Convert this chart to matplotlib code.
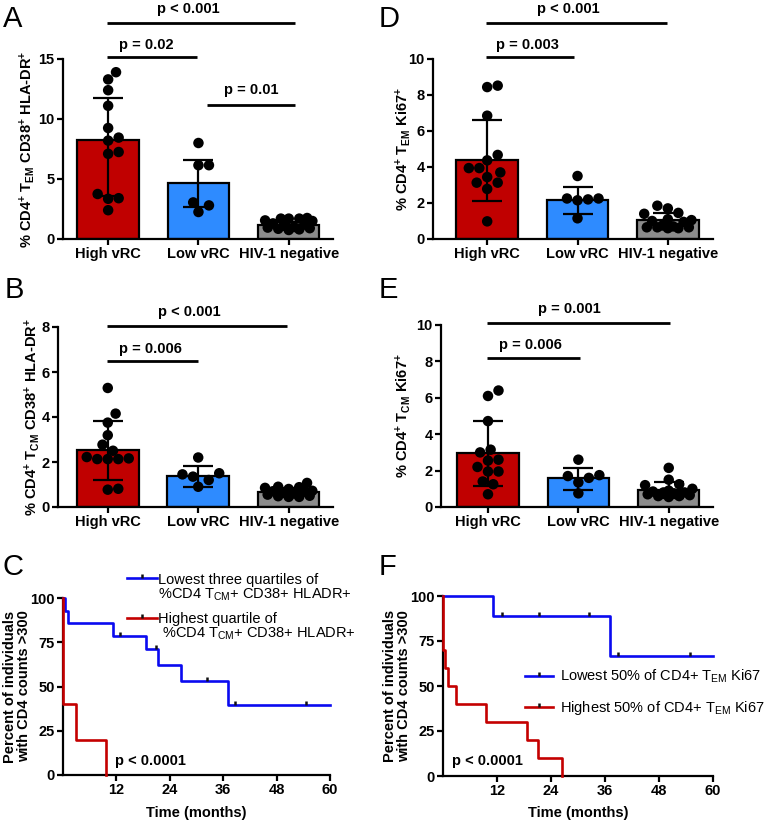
import numpy as np
import matplotlib
matplotlib.use('Agg')
import matplotlib.pyplot as plt
from matplotlib.markers import TICKUP

plt.rcParams['font.family'] = ['Liberation Sans', 'DejaVu Sans']
plt.rcParams['mathtext.default'] = 'regular'

# ---------------- values ----------------
groups = ['High vRC', 'Low vRC', 'HIV-1 negative']

# A  % CD4+ TEM CD38+ HLA-DR+
a_high = [13.9, 13.3, 12.4, 11.1, 9.25, 8.45, 8.2, 7.25, 7.1, 3.75, 3.4, 3.35, 2.4]
a_low = [8.0, 6.15, 6.15, 3.05, 2.8, 2.25]
a_neg = [1.75, 1.7, 1.7, 1.7, 1.55, 1.5, 1.3, 1.2, 1.1, 1.0, 0.95, 0.9, 0.85, 0.8, 0.75]
a_bar = [8.25, 4.64, 1.17]
a_lo = [3.56, 2.67, 0.9]
a_hi = [11.75, 6.61, 1.45]
a_p = ['p < 0.001', 'p = 0.02', 'p = 0.01']

# B  % CD4+ TCM CD38+ HLA-DR+
b_high = [5.29, 4.15, 3.75, 3.19, 2.77, 2.5, 2.22, 2.16, 2.13, 2.13, 2.13, 0.81, 0.77]
b_low = [2.2, 1.5, 1.45, 1.35, 1.2, 0.9]
b_neg = [1.07, 0.9, 0.88, 0.85, 0.8, 0.72, 0.7, 0.68, 0.65, 0.6, 0.55, 0.5, 0.48, 0.45, 0.45]
b_bar = [2.52, 1.38, 0.65]
b_lo = [1.19, 0.9, 0.46]
b_hi = [3.81, 1.84, 0.84]
b_p = ['p < 0.001', 'p = 0.006']

# D  % CD4+ TEM Ki67+
d_high = [8.52, 8.44, 6.85, 4.67, 4.37, 3.94, 3.94, 3.7, 3.44, 3.13, 3.13, 2.78, 0.98]
d_low = [3.5, 2.25, 2.25, 2.2, 2.15, 1.15]
d_neg = [1.85, 1.7, 1.45, 1.4, 1.1, 1.05, 1.0, 0.95, 0.75, 0.7, 0.65, 0.65, 0.65, 0.6, 0.6]
d_bar = [4.37, 2.19, 1.04]
d_lo = [2.11, 1.41, 0.7]
d_hi = [6.59, 2.91, 1.45]
d_p = ['p < 0.001', 'p = 0.003']

# E  % CD4+ TCM Ki67+
e_high = [6.4, 6.1, 4.72, 3.15, 3.0, 2.6, 2.55, 2.2, 1.95, 1.95, 1.4, 1.25, 0.7]
e_low = [2.6, 1.75, 1.7, 1.6, 1.35, 0.75]
e_neg = [2.15, 1.5, 1.25, 1.2, 1.0, 0.9, 0.85, 0.8, 0.8, 0.75, 0.7, 0.65, 0.6, 0.6, 0.55]
e_bar = [2.95, 1.58, 0.92]
e_lo = [1.16, 0.92, 0.5]
e_hi = [4.70, 2.17, 1.36]
e_p = ['p = 0.001', 'p = 0.006']

# C  Kaplan-Meier, CD38+ HLA-DR+ TCM quartiles
c_low_t = [0, 0.4, 1.1, 11.25, 18.75, 21.4, 26.6, 37.1, 60]
c_low_s = [100, 92.9, 85.7, 78.6, 71.3, 62.0, 52.9, 39.6, 39.6]
c_low_cens = [12.75, 20.8, 32.4, 38.6, 54.6]
c_high_t = [0, 0.1, 3.0, 9.75]
c_high_s = [100, 40, 20, 0]
c_labels = [['Lowest three quartiles of', '%CD4 T$_{CM}$+ CD38+ HLADR+'],
            ['Highest quartile of', ' %CD4 T$_{CM}$+ CD38+ HLADR+']]

# F  Kaplan-Meier, Ki67 TEM halves
f_low_t = [0, 11.1, 37.0, 60]
f_low_s = [100, 88.9, 66.7, 66.7]
f_low_cens = [13.0, 21.3, 32.4, 38.8, 54.8]
f_high_t = [0, 0.1, 0.37, 1.1, 2.96, 9.63, 18.67, 21.1, 26.5]
f_high_s = [100, 70, 60, 50, 40, 30, 20, 10, 0]
f_labels = ['Lowest 50% of CD4+ T$_{EM}$ Ki67', 'Highest 50% of CD4+ T$_{EM}$ Ki67']

km_p = 'p < 0.0001'

# ---------------- styling ----------------
bar_colors = ['#C00000', '#2E8BFF', '#8C8C8C']
km_blue = '#0A0AF0'
km_red = '#C40000'
FS = 10.5
LW = 1.6

W, H = 765, 823
fig = plt.figure(figsize=(W / 100, H / 100), dpi=100)


def px_axes(x0, y0, x1, y1):
    return fig.add_axes([x0 / W, 1 - y1 / H, (x1 - x0) / W, (y1 - y0) / H])


def fx(x, y):
    return x / W, 1 - y / H


def style_axes(ax):
    for s in ['top', 'right']:
        ax.spines[s].set_visible(False)
    for s in ['left', 'bottom']:
        ax.spines[s].set_linewidth(LW)
    ax.tick_params(width=LW, length=4, labelsize=FS, pad=2)
    for lab in ax.get_xticklabels() + ax.get_yticklabels():
        lab.set_fontweight('bold')


def swarm(vals, ppx, ppy, diam=10.5, maxw=24):
    # greedy beeswarm in pixel space, lowest values first
    vals = np.asarray(vals, float)
    step = diam / 4
    cands = [0.0]
    for k in range(1, int(maxw // step) + 1):
        cands += [k * step, -k * step]
    px_, py_ = [], []
    offs = np.zeros(len(vals))
    for i in np.argsort(vals, kind='stable'):
        y = vals[i] * ppy
        best, best_d = 0.0, -1.0
        for c in cands:
            d = np.min(np.hypot(np.array(px_) - c, np.array(py_) - y)) if px_ else np.inf
            if d >= diam:
                best = c
                break
            if d > best_d + 1e-9:
                best, best_d = c, d
        px_.append(best)
        py_.append(y)
        offs[i] = best / ppx
    return offs


def bar_panel(box, xlim, ymax, yticks, pts, bar, lo, hi, ylabel, sigs, ylab_x):
    ax = px_axes(*box)
    x = np.arange(len(groups))
    ax.bar(x, bar, width=0.68, color=bar_colors, edgecolor='black', linewidth=LW, zorder=1)
    bar = np.array(bar)
    ax.errorbar(x, bar, yerr=[bar - np.array(lo), np.array(hi) - bar], fmt='none',
                ecolor='black', elinewidth=LW, capsize=11, capthick=LW, zorder=2)
    ppx = (box[2] - box[0]) / (xlim[1] - xlim[0])
    ppy = (box[3] - box[1]) / ymax
    for i, vals in enumerate(pts):
        offs = swarm(vals, ppx, ppy)
        ax.scatter(i + offs, vals, s=57, color='black', edgecolors='none', zorder=3, clip_on=False)
    ax.set_xlim(*xlim)
    ax.set_ylim(0, ymax)
    ax.set_yticks(yticks)
    ax.set_xticks(x)
    ax.set_xticklabels(groups)
    style_axes(ax)
    for x0, x1, yl, xt, yt, lab in sigs:
        ax.plot([x0, x1], [yl, yl], color='black', lw=2.0, clip_on=False, solid_capstyle='butt')
        ax.text(xt, yt, lab, ha='center', va='center', fontsize=FS, fontweight='bold')
    fig.text(*fx(ylab_x, (box[1] + box[3]) / 2), ylabel, rotation=90, ha='center', va='center',
             fontsize=FS, fontweight='bold')
    return ax


def step_at(t, s, ct):
    idx = np.searchsorted(t, ct, side='right') - 1
    return np.array(s)[idx]


def km_panel(box, curves, ylab_x):
    ax = px_axes(*box)
    for t, s, cens, col in curves:
        ax.plot(t, s, drawstyle='steps-post', color=col, lw=1.9, clip_on=False, zorder=3)
        if cens:
            ax.plot(cens, step_at(t, s, cens), ls='none', marker=TICKUP, ms=3, mew=1.8,
                    color='#111111', zorder=4, clip_on=False)
    ax.set_xlim(0, 60)
    ax.set_ylim(0, 100)
    ax.set_xticks([12, 24, 36, 48, 60])
    ax.set_yticks([0, 25, 50, 75, 100])
    style_axes(ax)
    ax.set_xlabel('Time (months)', fontsize=FS, fontweight='bold')
    ax.xaxis.set_label_coords(0.5, -(813 - box[3]) / (box[3] - box[1]))
    ax.xaxis.label.set_va('center')
    fig.text(*fx(ylab_x, (box[1] + box[3]) / 2), 'Percent of individuals\nwith CD4 counts >300',
             rotation=90, ha='center', va='center', fontsize=FS, fontweight='bold', linespacing=1.0)
    return ax


def legend_entry(x0, x1, y, col):
    fig.add_artist(plt.Line2D([x0 / W, x1 / W], [1 - y / H] * 2, color=col, lw=1.9))
    fig.add_artist(plt.Line2D([(x0 + x1) / 2 / W], [1 - y / H], ls='none', marker=TICKUP,
                              ms=3, mew=1.8, color='#111111'))


# ---------------- panels ----------------
bar_panel((63, 59, 333, 239), (-0.5, 2.49), 15, [0, 5, 10, 15], [a_high, a_low, a_neg],
          a_bar, a_lo, a_hi, '% CD4$^{+}$ T$_{EM}$ CD38$^{+}$ HLA-DR$^{+}$',
          [(-0.01, 2.07, 18.0, 0.89, 19.2, a_p[0]),
           (-0.01, 0.98, 15.17, 0.42, 16.2, a_p[1]),
           (1.09, 2.07, 11.17, 1.58, 12.4, a_p[2])], 27.5)

bar_panel((58, 327, 333, 507), (-0.55, 2.49), 8, [0, 2, 4, 6, 8], [b_high, b_low, b_neg],
          b_bar, b_lo, b_hi, '% CD4$^{+}$ T$_{CM}$ CD38$^{+}$ HLA-DR$^{+}$',
          [(-0.01, 1.98, 8.04, 0.9, 8.68, b_p[0]),
           (-0.01, 1.0, 6.5, 0.475, 7.0, b_p[1])], 32)

bar_panel((433, 59, 713, 239), (-0.6, 2.5), 10, [0, 2, 4, 6, 8, 10], [d_high, d_low, d_neg],
          d_bar, d_lo, d_hi, '% CD4$^{+}$ T$_{EM}$ Ki67$^{+}$',
          [(-0.01, 1.99, 12.0, 0.9, 12.8, d_p[0]),
           (-0.01, 0.96, 10.1, 0.45, 10.8, d_p[1])], 403.5)

bar_panel((441, 325, 713, 507), (-0.52, 2.49), 10, [0, 2, 4, 6, 8, 10], [e_high, e_low, e_neg],
          e_bar, e_lo, e_hi, '% CD4$^{+}$ T$_{CM}$ Ki67$^{+}$',
          [(-0.01, 2.01, 10.13, 0.9, 10.9, e_p[0]),
           (-0.01, 1.02, 8.19, 0.475, 8.9, e_p[1])], 403.5)

km_panel((63, 598, 330, 775), [(c_low_t, c_low_s, c_low_cens, km_blue),
                               (c_high_t, c_high_s, [], km_red)], 17)
km_panel((443, 596, 713, 776), [(f_low_t, f_low_s, f_low_cens, km_blue),
                                (f_high_t, f_high_s, [], km_red)], 397)

# legends
legend_entry(127, 157, 578, km_blue)
fig.text(*fx(158, 584), c_labels[0][0], fontsize=FS, va='baseline')
fig.text(*fx(158, 599), c_labels[0][1], fontsize=FS, va='baseline')
legend_entry(127, 157, 618, km_red)
fig.text(*fx(158, 623), c_labels[1][0], fontsize=FS, va='baseline')
fig.text(*fx(158, 638), c_labels[1][1], fontsize=FS, va='baseline')

legend_entry(525, 553, 676, km_blue)
fig.text(*fx(560, 681), f_labels[0], fontsize=FS, va='baseline')
legend_entry(525, 553, 707, km_red)
fig.text(*fx(560, 712), f_labels[1], fontsize=FS, va='baseline')

fig.text(*fx(115, 765), km_p, fontsize=FS, fontweight='bold', va='baseline')
fig.text(*fx(452, 765), km_p, fontsize=FS, fontweight='bold', va='baseline')

# panel letters
for lab, x, y in [('A', 3, 27), ('D', 379, 27), ('B', 5, 298), ('E', 379, 298),
                  ('C', 3, 575), ('F', 379, 575)]:
    fig.text(*fx(x, y), lab, fontsize=21, va='baseline', ha='left')

fig.savefig('out.png', dpi=100)
